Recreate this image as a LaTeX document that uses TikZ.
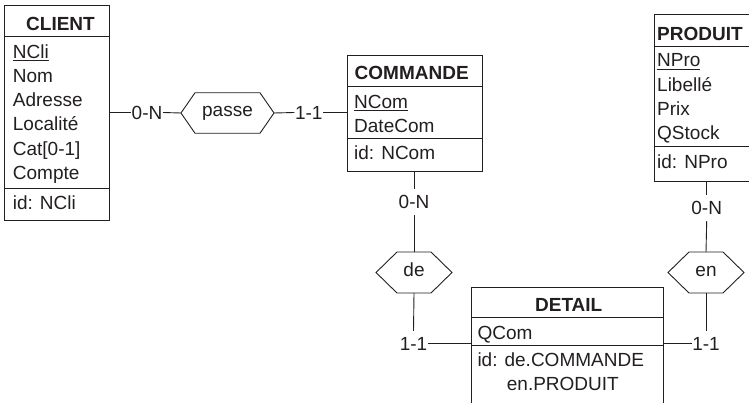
\documentclass[tikz,border=0pt]{standalone}
\usepackage{fontspec}
\setmainfont{Liberation Sans}
\definecolor{ink}{HTML}{231F20}
\newcommand\myul[1]{\setbox0\hbox{#1}\rlap{\rule[-2.8pt]{\wd0}{1.1pt}}\box0}
\newcommand\hexfrm[2]{\draw[ln] (#1.west) -- ([xshift=#2]#1.north west) -- ([xshift=-#2]#1.north east) -- (#1.east) -- ([xshift=-#2]#1.south east) -- ([xshift=#2]#1.south west) -- cycle;}
\begin{document}
\begin{tikzpicture}[x=1pt,y=-1pt,
  every node/.style={font=\fontsize{19pt}{22pt}\selectfont, text=ink},
  ln/.style={draw=ink, line width=0.9pt},
  ent/.style={ln, rectangle, outer sep=0pt, inner sep=0pt},
  attr/.style={anchor=base west, inner sep=0pt},
  ttl/.style={anchor=base, inner sep=0pt, font=\fontsize{19pt}{22pt}\selectfont\bfseries},
  rel/.style={rectangle, outer sep=0pt, inner sep=0pt, text height=8pt, text depth=0pt},
  card/.style={inner xsep=0.5pt, inner ysep=6pt}]
\useasboundingbox (0,0) rectangle (749,403);
\clip (0,0) rectangle (749,403);
\fill[white] (0,0) rectangle (749,403);

% CLIENT
\node[ent, minimum width=105pt, minimum height=215pt] (client) at (56.8,112.5) {};
\draw[ln] (client.west |- 0,36) -- (client.east |- 0,36);
\draw[ln] (client.west |- 0,188.3) -- (client.east |- 0,188.3);
\node[ttl] (clientT) at (60.5,30.7) {CLIENT};
\node[attr] (ca1) at (12.7,58.3) {\myul{NCli}};
\node[attr] (ca2) at (12.7,82.5) {Nom};
\node[attr] (ca3) at (12.7,106.7) {Adresse};
\node[attr] (ca4) at (12.7,130.9) {Localité};
\node[attr] (ca5) at (12.7,155.1) {Cat[0-1]};
\node[attr] (ca6) at (12.7,179.3) {Compte};
\node[attr] (ca7) at (12.7,209.3) {id: NCli};

% COMMANDE
\node[ent, minimum width=135pt, minimum height=116pt] (commande) at (414.5,113) {};
\draw[ln] (commande.west |- 0,86.7) -- (commande.east |- 0,86.7);
\draw[ln] (commande.west |- 0,138.7) -- (commande.east |- 0,138.7);
\node[ttl] (commandeT) at (411.7,80) {COMMANDE};
\node[attr] (ma1) at (354,108.3) {\myul{NCom}};
\node[attr] (ma2) at (354,132.7) {DateCom};
\node[attr] (ma3) at (354,160) {id: NCom};

% PRODUIT
\node[ent, minimum width=104.5pt, minimum height=167.7pt] (produit) at (706.75,97.85) {};
\draw[ln] (produit.west |- 0,46.7) -- (produit.east |- 0,46.7);
\draw[ln] (produit.west |- 0,146.7) -- (produit.east |- 0,146.7);
\node[ttl, anchor=base west] (produitT) at (657,41) {PRODUIT};
\node[attr] (pa1) at (657,67) {\myul{NPro}};
\node[attr] (pa2) at (657,91.5) {Libellé};
\node[attr] (pa3) at (657,116) {Prix};
\node[attr] (pa4) at (657,140) {QStock};
\node[attr] (pa5) at (657,168.3) {id: NPro};

% DETAIL
\node[ent, minimum width=192pt, minimum height=132.3pt] (detail) at (567,353.85) {};
\draw[ln] (detail.west |- 0,317.7) -- (detail.east |- 0,317.7);
\draw[ln] (detail.west |- 0,345.7) -- (detail.east |- 0,345.7);
\node[ttl] (detailT) at (568.7,311.7) {DETAIL};
\node[attr] (da1) at (477.3,339.3) {QCom};
\node[attr] (da2) at (477.3,366.7) {id: de.COMMANDE};
\node[attr] (da3) at (506.7,390.7) {en.PRODUIT};

% relationships
\node[rel, minimum width=93pt, minimum height=40.5pt] (passe) at (227.5,113) {passe};
\hexfrm{passe}{14pt}
\node[rel, minimum width=76pt, minimum height=41pt] (de) at (414,272.5) {de};
\hexfrm{de}{21pt}
\node[rel, minimum width=76pt, minimum height=41pt] (en) at (706,272.5) {en};
\hexfrm{en}{21pt}

% cardinalities
\node[card] (c1) at (147,112.5) {0-N};
\node[card] (c2) at (308.8,112.5) {1-1};
\node[card] (c3) at (414,201.7) {0-N};
\node[card] (c4) at (413.5,343.5) {1-1};
\node[card] (c5) at (706.7,208.3) {0-N};
\node[card] (c6) at (706,343.5) {1-1};

% connectors
\draw[ln] (client.east |- c1) -- (c1.west);
\draw[ln] (c1.east) -- (passe.west);
\draw[ln] (passe.east) -- (c2.west);
\draw[ln] (c2.east) -- (commande.west |- c2);
\draw[ln] (commande.south -| c3) -- (c3.north);
\draw[ln] (c3.south) -- (de.north);
\draw[ln] (de.south) -- (c4.north);
\draw[ln] (c4.east) -- (detail.west |- c4);
\draw[ln] (produit.south -| c5) -- (c5.north);
\draw[ln] (c5.south) -- (en.north);
\draw[ln] (en.south) -- (c6.north);
\draw[ln] (c6.west) -- (detail.east |- c6);
\end{tikzpicture}
\end{document}
